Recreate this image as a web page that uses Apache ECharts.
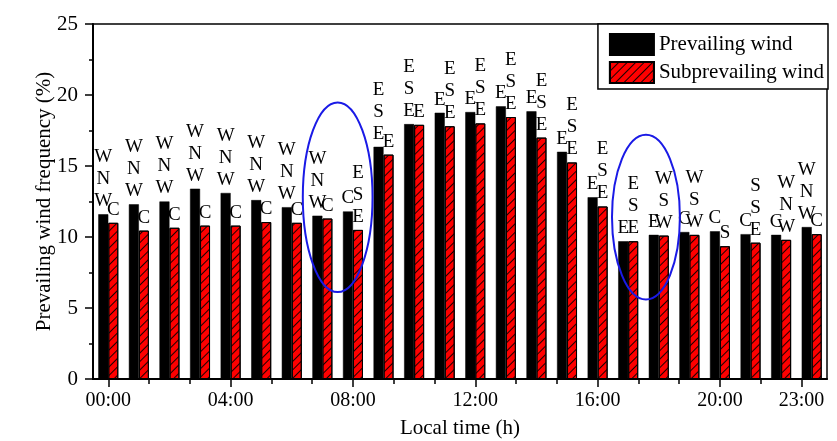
<!DOCTYPE html>
<html><head><meta charset="utf-8">
<script src="https://cdn.jsdelivr.net/npm/echarts@6/dist/echarts.min.js"></script>
<style>html,body{margin:0;padding:0;background:#fff}#c{width:837px;height:441px}</style>
</head><body><div id="c"></div>
<script>
// ---- data ----
const hours = ['00:00','01:00','02:00','03:00','04:00','05:00','06:00','07:00','08:00','09:00','10:00','11:00',
               '12:00','13:00','14:00','15:00','16:00','17:00','18:00','19:00','20:00','21:00','22:00','23:00'];
const prevailing = [11.6, 12.3, 12.5, 13.4, 13.1, 12.6, 12.1, 11.5, 11.8, 16.35, 17.95, 18.75,
                    18.8, 19.2, 18.85, 16.0, 12.8, 9.7, 10.15, 10.35, 10.4, 10.2, 10.15, 10.7];
const subprevailing = [11.0, 10.45, 10.65, 10.8, 10.8, 11.05, 11.0, 11.3, 10.5, 15.8, 17.9, 17.8,
                       18.0, 18.45, 17.0, 15.25, 12.15, 9.7, 10.1, 10.15, 9.35, 9.6, 9.8, 10.2];
const prevailingDir = ['WNW','WNW','WNW','WNW','WNW','WNW','WNW','WNW','C','ESE','ESE','E',
                       'E','E','E','E','E','E','E','C','C','C','C','WNW'];
const subprevailingDir = ['C','C','C','C','C','C','C','C','ESE','E','E','ESE',
                          'ESE','ESE','ESE','ESE','ESE','ESE','WSW','WSW','S','SSE','WNW','C'];
const xTickLabels = ['00:00','04:00','08:00','12:00','16:00','20:00','23:00'];
const seriesNames = ['Prevailing wind','Subprevailing wind'];

// ---- layout ----
const font = 'Liberation Serif';
const G = {left: 93, right: 10, top: 24, bottom: 62};
const plotW = 837 - G.left - G.right;
const catW = plotW / hours.length;
const tickMax = 68 / 3;

const chart = echarts.init(document.getElementById('c'), null, {renderer: 'canvas'});
const tickStyle = {color: '#000', width: 1.5};
const option = {
  backgroundColor: '#fff',
  animation: false,
  textStyle: {fontFamily: font},
  grid: [
    {left: G.left, right: G.right, top: G.top, bottom: G.bottom, show: true, borderColor: '#000', borderWidth: 1.5,
     containLabel: false, outerBoundsMode: 'none'},
    {left: G.left + catW * 0.5, width: catW * tickMax, top: G.top, bottom: G.bottom,
     containLabel: false, outerBoundsMode: 'none'}
  ],
  xAxis: [
    {type: 'category', gridIndex: 0, data: hours, position: 'bottom',
     axisLine: {show: true, onZero: false, lineStyle: {color: '#000', width: 2}},
     axisTick: {show: false}, axisLabel: {show: false}, splitLine: {show: false},
     name: 'Local time (h)', nameLocation: 'middle', nameGap: 39, nameMoveOverlap: false,
     nameTextStyle: {fontFamily: font, fontSize: 21, color: '#000'}},
    {type: 'value', gridIndex: 1, min: 0, max: tickMax, interval: 4 / 3, position: 'bottom',
     axisLine: {show: false, onZero: false}, axisTick: {show: true, length: 5, lineStyle: tickStyle},
     axisLabel: {show: false}, splitLine: {show: false}},
    {type: 'value', gridIndex: 1, min: 0, max: tickMax, interval: 4, position: 'bottom',
     axisLine: {show: false, onZero: false}, axisTick: {show: true, length: 8, lineStyle: tickStyle},
     axisLabel: {show: true, fontFamily: font, fontSize: 20, color: '#000', margin: 12,
                 formatter: v => xTickLabels[Math.round(v / 4)]},
     splitLine: {show: false}}
  ],
  yAxis: [
    {type: 'value', gridIndex: 0, min: 0, max: 25, interval: 5,
     name: 'Prevailing wind frequency (%)', nameLocation: 'middle', nameGap: 38, nameMoveOverlap: false,
     nameTextStyle: {fontFamily: font, fontSize: 21, color: '#000'},
     axisLine: {show: true, lineStyle: {color: '#000', width: 2}},
     axisTick: {show: true, length: 8, lineStyle: tickStyle},
     minorTick: {show: true, splitNumber: 2, length: 4, lineStyle: tickStyle},
     splitLine: {show: false},
     axisLabel: {fontFamily: font, fontSize: 21, color: '#000', margin: 15}},
    {type: 'value', gridIndex: 1, show: false}
  ],
  legend: {
    orient: 'vertical', right: G.right - 1, top: G.top, padding: [9, 4, 5, 11], itemGap: 5,
    itemWidth: 44, itemHeight: 21, icon: 'rect', borderColor: '#000', borderWidth: 1.5,
    backgroundColor: '#fff', textStyle: {fontFamily: font, fontSize: 21, color: '#000'},
    data: seriesNames
  },
  series: [
    {name: seriesNames[0], type: 'bar', xAxisIndex: 0, yAxisIndex: 0, data: prevailing,
     barWidth: 10, barGap: '0%',
     itemStyle: {color: '#000', borderColor: '#000', borderWidth: 0.5},
     label: {show: true, position: 'top', distance: 2, fontFamily: font, fontSize: 19, lineHeight: 22,
             color: '#000', formatter: p => prevailingDir[p.dataIndex].split('').join('\n')}},
    {name: seriesNames[1], type: 'bar', xAxisIndex: 0, yAxisIndex: 0, data: subprevailing,
     barWidth: 10, barGap: '0%',
     itemStyle: {color: '#ff0000', borderColor: '#000', borderWidth: 1,
                 decal: {symbol: 'rect', symbolSize: 1, color: '#1a0000', dashArrayX: [1, 0],
                         dashArrayY: [1, 4.5], rotation: -Math.PI / 4}},
     label: {show: true, position: 'top', distance: 2, fontFamily: font, fontSize: 19, lineHeight: 22,
             color: '#000', formatter: p => subprevailingDir[p.dataIndex].split('').join('\n')}}
  ]
};
chart.setOption(option);

// blue ellipse annotations, placed in data coordinates
function ellipse(xIdx, yVal, rxCats, ryVals) {
  const a = chart.convertToPixel({gridIndex: 0}, [Math.floor(xIdx), yVal]);
  const b = chart.convertToPixel({gridIndex: 0}, [Math.floor(xIdx) + 1, yVal + ryVals]);
  const step = b[0] - a[0];
  const cx = a[0] + (xIdx - Math.floor(xIdx)) * step;
  return {type: 'ellipse', z: 100,
          shape: {cx: cx, cy: a[1], rx: rxCats * step, ry: Math.abs(a[1] - b[1])},
          style: {fill: 'none', stroke: '#1a1ae6', lineWidth: 2}};
}
chart.setOption({graphic: [ellipse(7.5, 12.8, 1.14, 6.68), ellipse(17.58, 11.4, 1.11, 5.8)]});
</script></body></html>
